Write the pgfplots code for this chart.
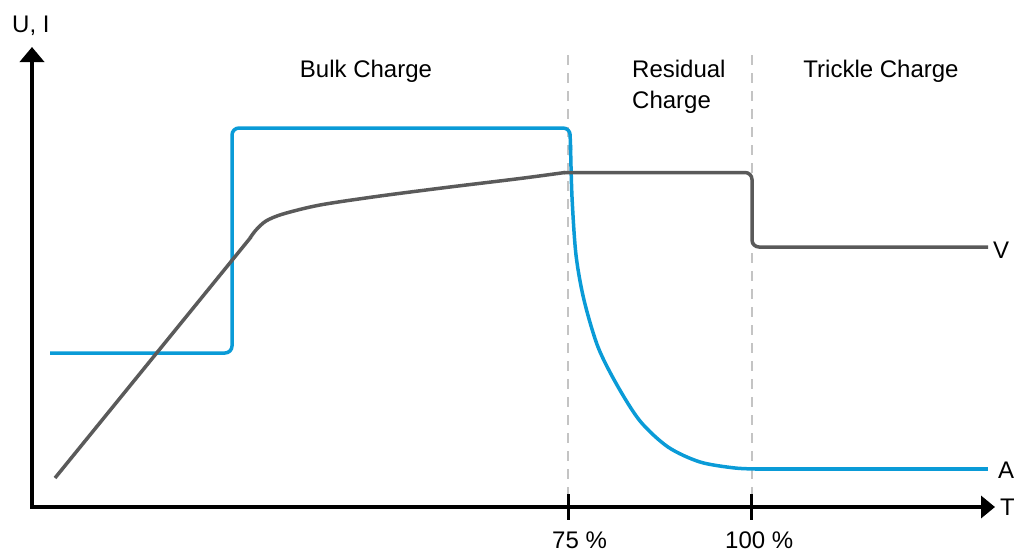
\documentclass[border=0pt]{standalone}
\usepackage{pgfplots}
\pgfplotsset{compat=1.18}
\usepackage{fontspec}
\setmainfont{Liberation Sans}
\usetikzlibrary{arrows.meta}
\definecolor{cblue}{HTML}{0A9BD7}
\definecolor{cgray}{HTML}{5A5A5A}
\definecolor{cdash}{HTML}{C4C4C4}
\tikzset{lbl/.style={font=\fontsize{24}{28}\selectfont, inner sep=0pt, text=black}}
\begin{document}
\begin{tikzpicture}
\begin{axis}[
  scale only axis, width=1014pt, height=554pt,
  xmin=0, xmax=1014, ymin=0, ymax=554, y dir=reverse,
  hide axis, clip=false,
]
% dashed phase separators
\addplot[cdash, line width=2.5pt, dash pattern=on 10pt off 8pt] coordinates {(568,55) (568,494)};
\addplot[cdash, line width=2.5pt, dash pattern=on 10pt off 8pt] coordinates {(752,55) (752,494)};
% current (A)
\addplot[cblue, line width=3.5pt, rounded corners=7pt] coordinates {(50,353) (232,353) (232,128) (570,128) (570.5,150)};
\addplot[cblue, line width=3.5pt, smooth, tension=0.5] coordinates {
 (570.5,145) (572,197) (576,255) (584,300) (598,347) (617,385) (640,421) (668,447) (700,462) (735,468) (760,469)};
\addplot[cblue, line width=3.5pt] coordinates {(755,469) (988,469)};
% voltage (V)
\addplot[cgray, line width=3.5pt] coordinates {(55,478) (251,237)};
\addplot[cgray, line width=3.5pt, smooth, tension=0.5] coordinates {
 (250,238) (256,230) (266,221) (283,214) (320,205) (380,196) (450,187) (520,178.5) (565,172.5)};
\addplot[cgray, line width=3.5pt, rounded corners=7pt] coordinates {(564,172.5) (752,172.5) (752,247) (988,247)};
% axes
\addplot[black, line width=4pt, {Triangle[length=15pt,width=24pt]}-{Triangle[length=14pt,width=22pt]}] coordinates {(32,47) (32,507) (995,507)};
\addplot[black, line width=3pt] coordinates {(568,494) (568,520)};
\addplot[black, line width=3pt] coordinates {(751,494) (751,520)};
% labels
\node[lbl, anchor=base west] at (axis cs:12,32) {U, I};
\node[lbl, anchor=base west] at (axis cs:1000,515) {T};
\node[lbl, anchor=base west] at (axis cs:993,258) {V};
\node[lbl, anchor=base west] at (axis cs:998,478) {A};
\node[lbl, anchor=base] at (axis cs:366,77) {Bulk Charge};
\node[lbl, anchor=base west] at (axis cs:632,77) {Residual};
\node[lbl, anchor=base west] at (axis cs:632,108) {Charge};
\node[lbl, anchor=base] at (axis cs:881,77) {Trickle Charge};
\node[lbl, anchor=base west] at (axis cs:552,548) {75 \%};
\node[lbl, anchor=base west] at (axis cs:725,548) {100 \%};
\end{axis}
\pgfresetboundingbox
\path (current axis.south west) rectangle (current axis.north east);
\end{tikzpicture}
\end{document}
